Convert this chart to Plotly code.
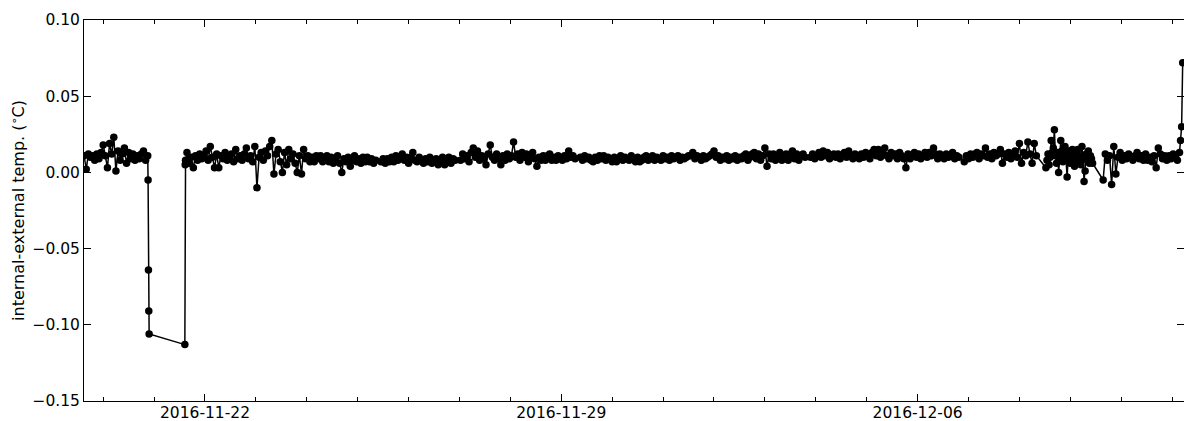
import pandas as pd
import plotly.graph_objects as go

# ---- data: segments of (start time, sampling step in minutes, values in deg C) ----
seg1_start, seg1_step = "2016-11-19 15:00", 60
seg1_vals = [0.011, 0.002, 0.012, 0.010, 0.011, 0.008, 0.012, 0.009, 0.013, 0.018,
             0.011, 0.003, 0.019, 0.012, 0.023, 0.001, 0.014, 0.008, 0.012, 0.016,
             0.006, 0.013, 0.009, 0.012, 0.008, 0.011, 0.009, 0.012, 0.014, 0.008,
             0.011]

seg2_start, seg2_step = "2016-11-20 21:10", 10
seg2_vals = [-0.005, -0.064, -0.091, -0.106]

seg3_start, seg3_step = "2016-11-21 14:30", 10
seg3_vals = [-0.113, 0.005, 0.008]

seg4_start, seg4_step = "2016-11-21 15:30", 60
seg4_vals = [0.013, 0.006, 0.010, 0.003, 0.011, 0.008, 0.012, 0.009, 0.011, 0.014,
             0.008, 0.017, 0.010, 0.003, 0.012, 0.003, 0.011, 0.009, 0.013, 0.008,
             0.010, 0.012, 0.007, 0.015, 0.009, 0.011, 0.008, 0.012, 0.016, 0.009,
             0.011, 0.007, 0.017, -0.010, 0.010, 0.013, 0.008, 0.014, 0.011, 0.017,
             0.021, -0.001, 0.012, 0.015, 0.007, 0.000, 0.013, 0.005, 0.015, 0.009,
             0.012, 0.006, 0.000, 0.011, -0.001, 0.015, 0.009, 0.011, 0.007, 0.010,
             0.007, 0.011, 0.009, 0.011, 0.007, 0.009, 0.011, 0.007, 0.010, 0.006,
             0.009, 0.011, 0.006, 0.000, 0.009, 0.007, 0.010, 0.004, 0.008, 0.011,
             0.007, 0.009, 0.006, 0.010, 0.007, 0.010, 0.007, 0.009, 0.006, 0.008]

seg5_start, seg5_step = "2016-11-25 11:00", 60
seg5_vals = [0.007, 0.009, 0.006, 0.009, 0.007, 0.010, 0.007, 0.011, 0.008, 0.010,
             0.012, 0.008, 0.010, 0.006, 0.010, 0.013, 0.008, 0.007, 0.010, 0.008,
             0.006, 0.009, 0.007, 0.010, 0.006, 0.008, 0.009, 0.005, 0.008, 0.010,
             0.005, 0.008, 0.010, 0.006, 0.009, 0.008]

seg6_start, seg6_step = "2016-11-27 00:30", 60
seg6_vals = [0.008, 0.012, 0.009, 0.011, 0.007, 0.013, 0.016, 0.010, 0.014, 0.008,
             0.011, 0.009, 0.005, 0.012, 0.018, 0.010, 0.008, 0.012, 0.009, 0.005,
             0.011, 0.008, 0.012, 0.009, 0.011, 0.020, 0.010, 0.012, 0.008, 0.013,
             0.010, 0.012, 0.007, 0.011, 0.013, 0.009, 0.004, 0.010, 0.008, 0.011,
             0.008, 0.011, 0.012, 0.008, 0.010, 0.008, 0.011, 0.009, 0.008, 0.011,
             0.009, 0.014, 0.010, 0.011, 0.009]

seg7_start, seg7_step = "2016-11-29 09:00", 60
seg7_vals = [0.010, 0.008, 0.011, 0.009, 0.010, 0.008, 0.007, 0.010, 0.008, 0.011,
             0.009, 0.011, 0.008, 0.010, 0.009, 0.007, 0.010, 0.007, 0.009, 0.011,
             0.008, 0.010, 0.009, 0.008, 0.011, 0.009, 0.007, 0.010, 0.007, 0.008,
             0.010, 0.011, 0.008, 0.009, 0.011, 0.008, 0.010, 0.009, 0.008, 0.011,
             0.009, 0.010, 0.008, 0.011, 0.009, 0.010, 0.011, 0.008, 0.010, 0.009,
             0.010, 0.011, 0.011, 0.013, 0.009, 0.011, 0.010, 0.008, 0.011, 0.009,
             0.010, 0.011, 0.012, 0.014, 0.010, 0.011, 0.008, 0.010, 0.009, 0.011,
             0.008, 0.010, 0.009, 0.011, 0.008, 0.010, 0.009, 0.011, 0.012, 0.008,
             0.010, 0.012, 0.013, 0.009, 0.012, 0.008, 0.011, 0.016, 0.004, 0.012,
             0.009, 0.012, 0.008, 0.010, 0.013, 0.008, 0.011, 0.012, 0.008, 0.012,
             0.014, 0.009, 0.012, 0.008, 0.011, 0.012, 0.010]

seg8_start, seg8_step = "2016-12-03 21:30", 60
seg8_vals = [0.010, 0.012, 0.009, 0.011, 0.013, 0.010, 0.014, 0.011, 0.013, 0.009,
             0.011, 0.012, 0.010, 0.012, 0.009, 0.011, 0.013, 0.010, 0.014, 0.011,
             0.009, 0.012, 0.011, 0.009, 0.012, 0.010, 0.013, 0.011, 0.009, 0.013,
             0.015, 0.011, 0.015, 0.010, 0.013, 0.016, 0.011, 0.009, 0.013, 0.011,
             0.012, 0.009, 0.013, 0.011, 0.009, 0.003, 0.012, 0.009, 0.011, 0.013,
             0.010, 0.012, 0.009, 0.011, 0.013, 0.010, 0.013, 0.011, 0.016, 0.012,
             0.009, 0.012, 0.010, 0.009, 0.012, 0.010, 0.011, 0.013, 0.009, 0.011,
             0.010]

seg9_start, seg9_step = "2016-12-06 22:00", 60
seg9_vals = [0.007, 0.011, 0.009, 0.012, 0.010, 0.012, 0.013, 0.009, 0.012, 0.011,
             0.016, 0.010, 0.012, 0.009, 0.013, 0.011, 0.012, 0.015, 0.006, 0.012,
             0.010, 0.013, 0.009, 0.012, 0.014, 0.010, 0.019, 0.006, 0.013, 0.011,
             0.020, 0.012, 0.006, 0.019, 0.011]

seg10_start, seg10_step = "2016-12-08 12:30", 30
seg10_vals = [0.003, 0.008, 0.012, 0.005, 0.010, 0.021, 0.013, 0.016, 0.028, 0.011,
              0.006, 0.013, 0.000, 0.009, 0.021, 0.014, 0.007, 0.012, 0.017, 0.008,
              -0.003, 0.010, 0.014, 0.006, 0.012, 0.015, 0.009, 0.004, 0.013, 0.010,
              0.015, 0.007, 0.011, 0.005, 0.017, 0.009, -0.006, 0.001, 0.012, 0.008,
              0.014, 0.006, 0.011, 0.009, 0.006]

seg11_start, seg11_step = "2016-12-09 15:30", 60
seg11_vals = [-0.005, 0.012, 0.008, 0.011, -0.008, 0.017, -0.001, 0.010, 0.013, 0.008,
              0.011, 0.009, 0.012, 0.010, 0.008, 0.011, 0.013, 0.009, 0.011, 0.008,
              0.012, 0.008, 0.010, 0.007, 0.011, 0.003, 0.016, 0.012, 0.009, 0.011,
              0.008, 0.011, 0.009, 0.012, 0.010, 0.008, 0.013]

seg12_start, seg12_step = "2016-12-11 04:00", 30
seg12_vals = [0.021, 0.030, 0.072]

segments = [
    (seg1_start, seg1_step, seg1_vals), (seg2_start, seg2_step, seg2_vals),
    (seg3_start, seg3_step, seg3_vals), (seg4_start, seg4_step, seg4_vals),
    (seg5_start, seg5_step, seg5_vals), (seg6_start, seg6_step, seg6_vals),
    (seg7_start, seg7_step, seg7_vals), (seg8_start, seg8_step, seg8_vals),
    (seg9_start, seg9_step, seg9_vals), (seg10_start, seg10_step, seg10_vals),
    (seg11_start, seg11_step, seg11_vals), (seg12_start, seg12_step, seg12_vals),
]

times, values = [], []
for start, step, vals in segments:
    times.extend(pd.date_range(start, periods=len(vals), freq=f"{step}min"))
    values.extend(vals)

x_range = ["2016-11-19 14:57", "2016-12-11 05:37"]
y_range = [-0.15, 0.10]
y_label = "internal-external temp. (<sup>∘</sup>C)"

FONT = "DejaVu Sans"

fig = go.Figure()
fig.add_trace(go.Scatter(
    x=times, y=values, mode="lines+markers",
    line=dict(color="black", width=1.5),
    marker=dict(color="black", size=7.5, line=dict(width=0)),
    showlegend=False,
))

fig.update_layout(
    width=1184, height=421,
    margin=dict(l=84, r=0, t=20, b=20),
    paper_bgcolor="white", plot_bgcolor="white",
    font=dict(family=FONT, size=15.5, color="black"),
)

fig.update_xaxes(
    range=x_range, type="date", automargin=False,
    tick0="2016-11-22", dtick=7 * 86400000, tickformat="%Y-%m-%d",
    ticks="inside", ticklen=7, tickwidth=1, tickcolor="black",
    ticklabelstandoff=-3,
    showline=True, linecolor="black", linewidth=1, mirror="ticks",
    showgrid=False, zeroline=False,
    minor=dict(tick0="2016-11-22", dtick=86400000, ticks="inside",
               ticklen=4, tickwidth=1, tickcolor="black", showgrid=False),
    tickfont=dict(family=FONT, size=15.5, color="black"),
)

fig.update_yaxes(
    range=y_range, dtick=0.05, tickformat=".2f", automargin=False,
    ticks="inside", ticklen=7, tickwidth=1, tickcolor="black",
    showline=True, linecolor="black", linewidth=1, mirror="ticks",
    showgrid=False, zeroline=False,
    tickfont=dict(family=FONT, size=15.5, color="black"),
    title=dict(text=y_label, font=dict(family=FONT, size=16, color="black"), standoff=3),
)

fig.write_html(
    "out.html",
    config={"displayModeBar": False},
    post_script="document.body.style.margin='0px';document.body.style.overflow='hidden';",
)
